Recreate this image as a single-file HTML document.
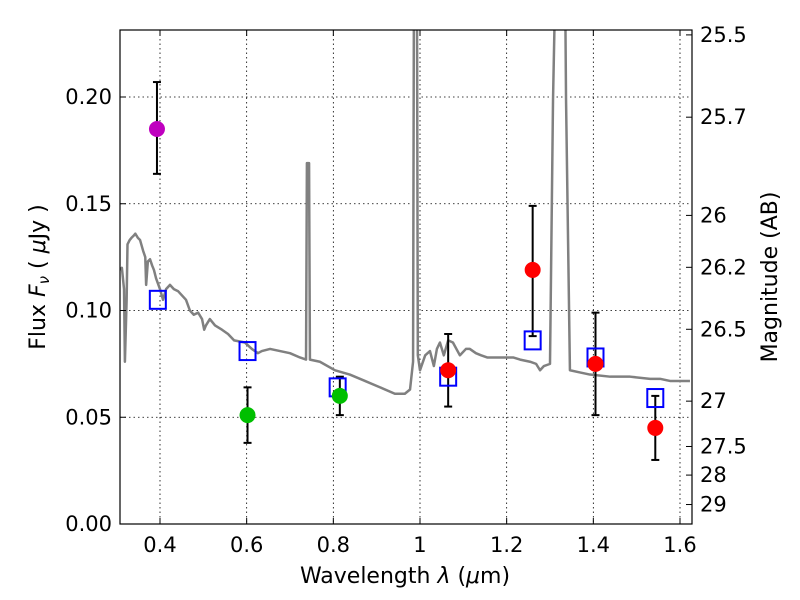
<!DOCTYPE html>
<html><head><meta charset="utf-8"><style>
html,body{margin:0;padding:0;background:#fff}
svg{display:block;font-family:"DejaVu Sans","Liberation Sans",sans-serif}
</style></head><body>
<svg id="chart" width="800" height="600" viewBox="0 0 800 600">
<defs><clipPath id="clip"><rect x="120" y="30" width="572" height="494"/></clipPath></defs>
<rect x="0" y="0" width="800" height="600" fill="#fff"/>
<g id="grid"></g>
<g id="spec" clip-path="url(#clip)"></g>
<g id="marks" clip-path="url(#clip)"></g>
<rect x="120" y="30" width="572" height="494" fill="none" stroke="#000" stroke-width="1.2"/>
<g id="axes"></g>
<text x="405" y="583" font-size="22" text-anchor="middle">Wavelength  <tspan font-style="italic">λ</tspan> (<tspan font-style="italic">μ</tspan>m)</text>
<text transform="translate(45,277) rotate(-90)" font-size="22" text-anchor="middle">Flux  <tspan font-style="italic">F<tspan font-size="15" dy="4">ν</tspan></tspan><tspan dy="-4">  ( </tspan><tspan font-style="italic">μ</tspan>Jy )</text>
<text transform="translate(777,277) rotate(-90)" font-size="22" text-anchor="middle">Magnitude (AB)</text>
</svg>
<script>
const xTicks=[0.4,0.6,0.8,1.0,1.2,1.4,1.6];
const xTickLabels=["0.4","0.6","0.8","1","1.2","1.4","1.6"];
const yTicks=[0,0.05,0.10,0.15,0.20];
const yTickLabels=["0.00","0.05","0.10","0.15","0.20"];
const magTicks=[25.5,25.7,26,26.2,26.5,27,27.5,28,29];
const magTickLabels=["25.5","25.7","26","26.2","26.5","27","27.5","28","29"];
const specWave=[0.308,0.312,0.317,0.319,0.323,0.325,0.330,0.334,0.339,0.343,0.349,0.354,0.361,0.366,0.368,0.372,0.377,0.382,0.386,0.391,0.400,0.407,0.414,0.423,0.432,0.442,0.451,0.460,0.469,0.478,0.488,0.497,0.502,0.506,0.515,0.527,0.543,0.557,0.571,0.596,0.612,0.626,0.635,0.654,0.677,0.700,0.723,0.737,0.739,0.744,0.746,0.769,0.804,0.838,0.873,0.908,0.942,0.965,0.977,0.984,0.986,0.993,0.995,1.000,1.012,1.023,1.032,1.039,1.046,1.055,1.065,1.076,1.092,1.106,1.115,1.129,1.141,1.155,1.169,1.185,1.201,1.215,1.231,1.254,1.268,1.277,1.286,1.300,1.307,1.312,1.335,1.337,1.346,1.369,1.392,1.439,1.485,1.531,1.554,1.577,1.600,1.623];
const specFlux=[0.119,0.120,0.110,0.076,0.105,0.131,0.133,0.134,0.135,0.136,0.134,0.133,0.128,0.125,0.112,0.123,0.124,0.121,0.119,0.115,0.110,0.105,0.110,0.112,0.110,0.109,0.107,0.105,0.100,0.098,0.099,0.096,0.091,0.093,0.096,0.093,0.091,0.089,0.086,0.085,0.082,0.080,0.081,0.082,0.081,0.080,0.078,0.077,0.169,0.169,0.077,0.076,0.072,0.070,0.067,0.064,0.061,0.061,0.063,0.076,0.25,0.25,0.079,0.072,0.079,0.081,0.074,0.082,0.085,0.079,0.086,0.085,0.079,0.082,0.082,0.080,0.079,0.078,0.078,0.078,0.078,0.078,0.077,0.076,0.075,0.072,0.074,0.075,0.199,0.25,0.25,0.199,0.072,0.071,0.070,0.069,0.069,0.068,0.068,0.067,0.067,0.067];
const obsWave=[0.393,0.602,0.815,1.065,1.26,1.405,1.543];
const obsFlux=[0.185,0.051,0.060,0.072,0.119,0.075,0.045];
const obsLow=[0.164,0.038,0.051,0.055,0.088,0.051,0.030];
const obsHigh=[0.207,0.064,0.069,0.089,0.149,0.099,0.060];
const obsColor=["#bf00bf","#00bf00","#00bf00","#ff0000","#ff0000","#ff0000","#ff0000"];
const modelWave=[0.395,0.602,0.81,1.065,1.26,1.405,1.543];
const modelFlux=[0.105,0.081,0.064,0.069,0.086,0.078,0.059];

const X=v=>160+(v-0.4)*433.33;
const Y=v=>524-v*2135;
const NS="http://www.w3.org/2000/svg";
function mk(tag,parent,attrs){const e=document.createElementNS(NS,tag);for(const k in attrs)e.setAttribute(k,attrs[k]);parent.appendChild(e);return e;}
const grid=document.getElementById('grid'),axes=document.getElementById('axes'),spec=document.getElementById('spec'),marks=document.getElementById('marks');
xTicks.forEach((t,i)=>{
  const l=mk('line',grid,{x1:X(t),x2:X(t),y1:30,y2:524,stroke:'#000','stroke-width':0.8,'stroke-dasharray':'1.5,3'});
  
  const a=mk('line',axes,{x1:X(t),x2:X(t),y1:524,y2:518,stroke:'#000'});
  
  const b=mk('line',axes,{x1:X(t),x2:X(t),y1:30,y2:36,stroke:'#000'});
  
  const tx=mk('text',axes,{x:X(t),y:552,'font-size':21,'text-anchor':'middle'});tx.textContent=xTickLabels[i];
  
});
yTicks.forEach((t,i)=>{
  const l=mk('line',grid,{x1:120,x2:692,y1:Y(t),y2:Y(t),stroke:'#000','stroke-width':0.8,'stroke-dasharray':'1.5,3'});
  
  const a=mk('line',axes,{x1:120,x2:126,y1:Y(t),y2:Y(t),stroke:'#000'});
  
  const tx=mk('text',axes,{x:112,y:Y(t)+7,'font-size':21,'text-anchor':'end'});tx.textContent=yTickLabels[i];
  
});
magTicks.forEach((m,i)=>{
  const f=Math.pow(10,(23.9-m)/2.5);
  const a=mk('line',axes,{x1:692,x2:686,y1:Y(f),y2:Y(f),stroke:'#000'});
  
  const tx=mk('text',axes,{x:700,y:Y(f)+7,'font-size':21});tx.textContent=magTickLabels[i];
  
});
const p=mk('polyline',spec,{points:specWave.map((w,i)=>X(w)+','+Y(specFlux[i])).join(' '),fill:'none',stroke:'#808080','stroke-width':2.5,'stroke-linejoin':'round'});

obsWave.forEach((w,i)=>{
  const g=mk('g',marks,{});
  
  mk('line',g,{x1:X(w),x2:X(w),y1:Y(obsLow[i]),y2:Y(obsHigh[i]),stroke:'#000','stroke-width':2});
  mk('line',g,{x1:X(w)-4,x2:X(w)+4,y1:Y(obsLow[i]),y2:Y(obsLow[i]),stroke:'#000','stroke-width':2});
  mk('line',g,{x1:X(w)-4,x2:X(w)+4,y1:Y(obsHigh[i]),y2:Y(obsHigh[i]),stroke:'#000','stroke-width':2});
});
modelWave.forEach((w,i)=>{
  const r=mk('rect',marks,{x:X(w)-8,y:Y(modelFlux[i])-9,width:16,height:18,fill:'none',stroke:'#0000ff','stroke-width':2});
  
});
obsWave.forEach((w,i)=>{
  const c=mk('circle',marks,{cx:X(w),cy:Y(obsFlux[i]),r:8,fill:obsColor[i]});
  
});
</script>
</body></html>
